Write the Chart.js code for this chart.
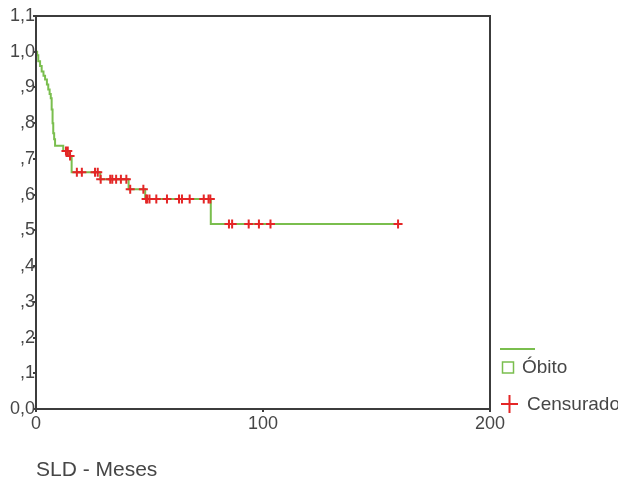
<!DOCTYPE html>
<html>
<head>
<meta charset="utf-8">
<script src="https://cdn.jsdelivr.net/npm/chart.js@4"></script>
<style>
html, body { margin: 0; padding: 0; background: #fff; }
</style>
</head>
<body>
<canvas id="km_chart" width="618" height="479"></canvas>
<script>
// Kaplan-Meier curve, SLD in months
const eventMonths = [0, 0.5, 1, 1.8, 2.5, 3.3, 4, 4.8, 5.4, 6, 6.5, 6.9, 7.3, 7.6, 8, 8.4, 12, 14.5, 15.7, 28.3, 40.8, 48.1, 77, 159.5];
const eventSurvival = [1.0, 0.99, 0.973, 0.96, 0.945, 0.933, 0.922, 0.908, 0.894, 0.882, 0.87, 0.838, 0.80, 0.772, 0.755, 0.737, 0.722, 0.708, 0.663, 0.643, 0.615, 0.588, 0.518, 0.518];

// censored cases (+)
const censoredMonths = [13.2, 14.0, 15.0, 18.0, 20.2, 26.0, 27.2, 28.5, 32.7, 33.6, 35.3, 37.4, 39.8, 41.5, 47.3,
  48.5, 49.0, 50.0, 53.0, 57.7, 63.0, 64.3, 67.7, 73.9, 76.0, 76.8, 85.0, 86.4, 93.7, 98.2, 103.3, 159.5];
const censoredSurvival = [0.722, 0.722, 0.708, 0.663, 0.663, 0.663, 0.663, 0.643, 0.643, 0.643, 0.643, 0.643, 0.643, 0.615, 0.615,
  0.588, 0.588, 0.588, 0.588, 0.588, 0.588, 0.588, 0.588, 0.588, 0.588, 0.588, 0.518, 0.518, 0.518, 0.518, 0.518, 0.518];

const legendLabels = ['Óbito', 'Censurado'];
const xTitle = 'SLD - Meses';

const GREEN = 'rgb(122, 190, 78)';
const RED = 'rgb(228, 38, 38)';
const AXIS = 'rgb(60, 60, 60)';
const TEXT = 'rgb(70, 70, 70)';
const FONT = '"Liberation Sans", Arial, sans-serif';

const toPoints = (xs, ys) => xs.map((x, i) => ({ x: x, y: ys[i] }));

// box around the plot + the little legend on the right
const frameAndLegend = {
  id: 'frameAndLegend',
  afterDraw(chart) {
    const { ctx, chartArea: a } = chart;
    ctx.save();
    ctx.strokeStyle = AXIS;
    ctx.lineWidth = 2;
    ctx.strokeRect(a.left, a.top, a.right - a.left, a.bottom - a.top);

    const lx = a.right + 10;
    ctx.strokeStyle = GREEN;
    ctx.lineWidth = 2;
    ctx.beginPath();
    ctx.moveTo(lx, a.bottom - 60);
    ctx.lineTo(lx + 35, a.bottom - 60);
    ctx.stroke();

    ctx.lineWidth = 1.5;
    ctx.strokeRect(lx + 2.5, a.bottom - 47, 11, 11);

    ctx.strokeStyle = RED;
    ctx.lineWidth = 2;
    ctx.beginPath();
    ctx.moveTo(lx + 1, a.bottom - 5);
    ctx.lineTo(lx + 18, a.bottom - 5);
    ctx.moveTo(lx + 9.5, a.bottom - 14);
    ctx.lineTo(lx + 9.5, a.bottom + 4);
    ctx.stroke();

    ctx.fillStyle = TEXT;
    ctx.font = '19px ' + FONT;
    ctx.textBaseline = 'middle';
    ctx.textAlign = 'left';
    ctx.fillText(legendLabels[0], lx + 22, a.bottom - 41);
    ctx.fillText(legendLabels[1], lx + 27, a.bottom - 4);
    ctx.restore();
  }
};

new Chart(document.getElementById('km_chart'), {
  type: 'scatter',
  data: {
    datasets: [
      {
        label: legendLabels[0],
        data: toPoints(eventMonths, eventSurvival),
        showLine: true,
        stepped: true,
        borderColor: GREEN,
        borderWidth: 2,
        pointRadius: 0,
        order: 1
      },
      {
        label: legendLabels[1],
        data: toPoints(censoredMonths, censoredSurvival),
        showLine: false,
        pointStyle: 'cross',
        pointRadius: 4.5,
        borderColor: RED,
        backgroundColor: RED,
        borderWidth: 2,
        order: 0
      }
    ]
  },
  options: {
    responsive: false,
    animation: false,
    layout: { padding: { top: 16, right: 128, left: 0, bottom: 0 } },
    plugins: {
      legend: { display: false },
      tooltip: { enabled: false }
    },
    scales: {
      x: {
        min: 0,
        max: 200,
        afterFit: (scale) => { scale.height = 70; },
        border: { display: false },
        grid: { drawOnChartArea: false, drawTicks: true, tickLength: 3, color: AXIS, lineWidth: 2 },
        ticks: {
          stepSize: 100,
          padding: 1,
          color: TEXT,
          font: { family: FONT, size: 18 }
        },
        title: {
          display: true,
          text: xTitle,
          align: 'start',
          color: TEXT,
          font: { family: FONT, size: 21, lineHeight: 0.85 },
          padding: { top: 0, bottom: 0 }
        }
      },
      y: {
        min: 0,
        max: 1.1,
        afterFit: (scale) => { scale.width = 36; },
        border: { display: false },
        grid: { drawOnChartArea: false, drawTicks: true, tickLength: 3, color: AXIS, lineWidth: 2 },
        ticks: {
          stepSize: 0.1,
          padding: -2,
          color: TEXT,
          font: { family: FONT, size: 18 },
          callback: (v) => {
            const d = Math.round(v * 10);
            if (d === 0) return '0,0';
            if (d >= 10) return Math.floor(d / 10) + ',' + (d % 10);
            return ',' + d;
          }
        }
      }
    }
  },
  plugins: [frameAndLegend]
});
</script>
</body>
</html>
